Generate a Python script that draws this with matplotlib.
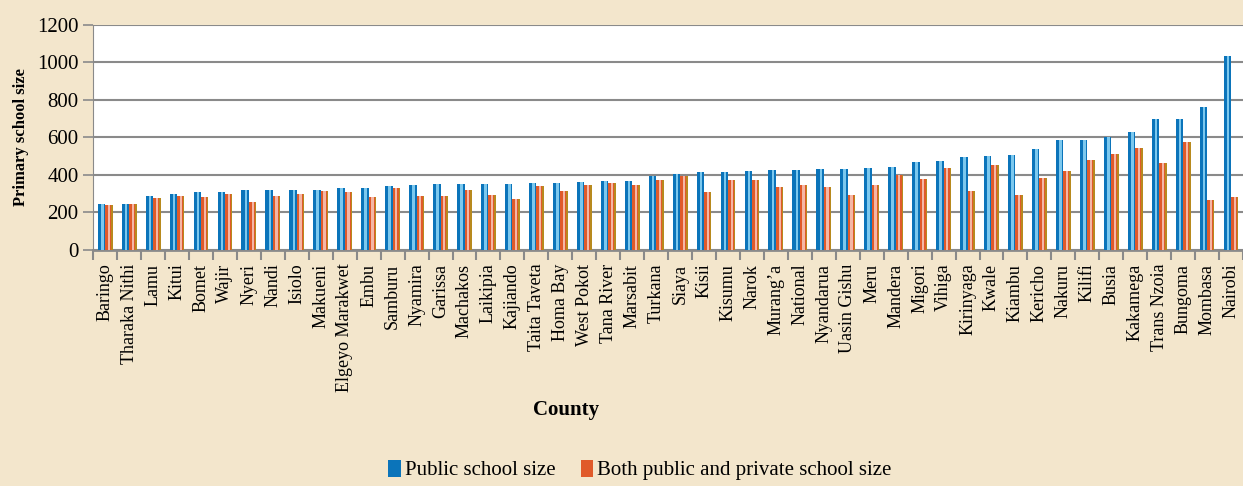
import numpy as np
import matplotlib.pyplot as plt

counties = ["Baringo", "Tharaka Nithi", "Lamu", "Kitui", "Bomet", "Wajir", "Nyeri",
            "Nandi", "Isiolo", "Makueni", "Elgeyo Marakwet", "Embu", "Samburu",
            "Nyamira", "Garissa", "Machakos", "Laikipia", "Kajiando", "Taita Taveta",
            "Homa Bay", "West Pokot", "Tana River", "Marsabit", "Turkana", "Siaya",
            "Kisii", "Kisumu", "Narok", "Murang\u2019a", "National", "Nyandarua",
            "Uasin Gishu", "Meru", "Mandera", "Migori", "Vihiga", "Kirinyaga", "Kwale",
            "Kiambu", "Kericho", "Nakuru", "Kilifi", "Busia", "Kakamega", "Trans Nzoia",
            "Bungoma", "Mombasa", "Nairobi"]

public = [244, 244, 286, 297, 307, 307, 318, 318, 318, 318, 329, 329, 339,
          345, 350, 350, 350, 350, 355, 355, 360, 366, 366, 394, 403,
          413, 413, 419, 424, 424, 429, 429, 435, 440, 466, 472, 493, 498,
          504, 535, 583, 588, 604, 626, 700, 700, 763, 1035]

both = [239, 244, 276, 286, 281, 297, 254, 286, 297, 313, 307, 281, 329,
        286, 286, 318, 292, 270, 339, 313, 345, 355, 345, 371, 392,
        307, 371, 371, 334, 345, 334, 292, 345, 398, 376, 435, 313, 451,
        292, 382, 419, 477, 509, 541, 461, 573, 265, 281]

plt.rcParams['font.family'] = ['Liberation Serif', 'DejaVu Serif']
bg = '#F3E6CC'

fig = plt.figure(figsize=(12.43, 4.86), dpi=100, facecolor=bg)
ax = fig.add_axes([0.075, 0.486, 0.925, 0.463])
ax.set_facecolor('white')

x = np.arange(len(counties))
w = 0.31
ax.bar(x - w / 2, public, w, color='#0B74BA', zorder=3)
ax.bar(x - w / 2 + 0.03, public, w * 0.35, color='#7CC8EE', zorder=4)
ax.bar(x + w / 2, both, w, color='#E05A2A', zorder=3)
ax.bar(x + w / 2, both, w * 0.3, color='#F4B7A6', zorder=4)
ax.bar(x + w / 2 + w * 0.4, both, w * 0.2, color='#B88A1E', zorder=4)

ax.set_xlim(-0.5, len(counties) - 0.5)
ax.set_ylim(0, 1200)
ax.set_yticks(range(0, 1201, 200))
ax.yaxis.grid(True, color='#8A8A8A', lw=1.5, zorder=1)
ax.set_axisbelow(True)

ax.set_xticks(x)
ax.set_xticklabels(counties, rotation=90, fontsize=13)
ax.set_xticks(np.arange(-0.5, len(counties)), minor=True)
ax.tick_params(axis='x', which='major', length=0, pad=10)
ax.tick_params(axis='x', which='minor', length=7, color='#8A8A8A', width=1.5)
ax.tick_params(axis='y', length=7, color='#8A8A8A', width=1.2, labelsize=15)

for s in ['top', 'right']:
    ax.spines[s].set_visible(False)
ax.spines['left'].set_color('#8A8A8A')
ax.spines['bottom'].set_color('#8A8A8A')
ax.spines['bottom'].set_linewidth(2)

ax.set_ylabel('Primary school size', fontsize=12, fontweight='bold', labelpad=6)
fig.text(0.455, 0.157, 'County', fontsize=15, fontweight='bold', ha='center', va='center')

from matplotlib.patches import Patch
handles = [Patch(facecolor='#0B74BA'), Patch(facecolor='#E05A2A')]
fig.legend(handles, ['Public school size', 'Both public and private school size'],
           loc='center', bbox_to_anchor=(0.515, 0.033), ncol=2, frameon=False,
           fontsize=15, handlelength=0.6, handleheight=0.9, handletextpad=0.2,
           columnspacing=1.2)

fig.savefig('out.png', dpi=100, facecolor=bg)
